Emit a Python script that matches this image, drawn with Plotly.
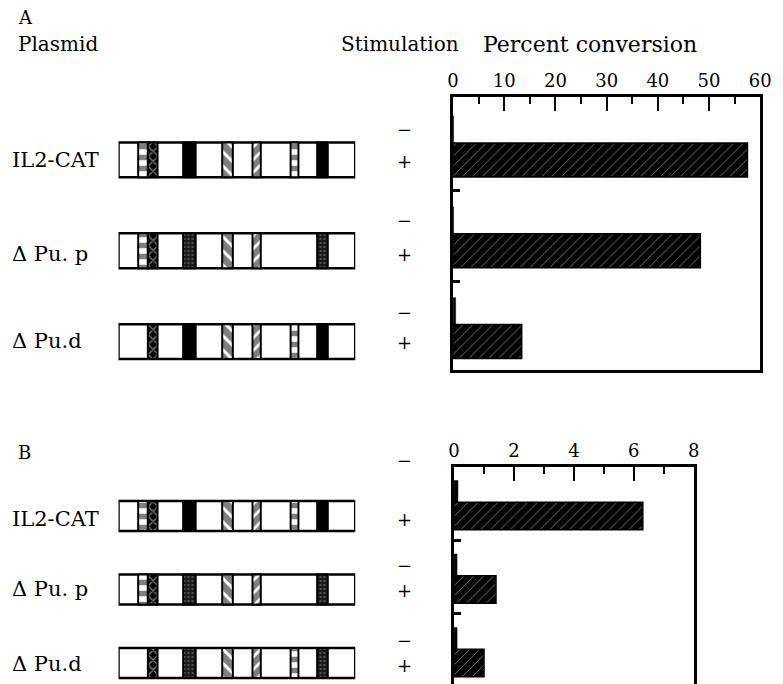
import plotly.graph_objects as go

# ---------------- data ----------------
plasmids = ["IL2-CAT", "\u0394 Pu. p", "\u0394 Pu.d"]
stimulation = ["\u2212", "+"]
a_ticks = [0, 10, 20, 30, 40, 50, 60]
b_ticks = [0, 2, 4, 6, 8]
a_minus = [0.1, 0.1, 0.5]
a_plus = [57.5, 48.3, 13.4]
b_minus = [0.13, 0.1, 0.1]
b_plus = [6.3, 1.4, 1.0]

# plasmid map elements (position along the construct, 0-100)
element_types = ["ladder", "cross", "band", "back", "fwd", "ladder", "band"]
element_start = [8.3, 12.4, 27.3, 43.8, 56.6, 72.7, 83.9]
element_end = [12.4, 16.5, 32.6, 48.3, 60.1, 76.0, 88.4]
a_present = [[1, 1, 1, 1, 1, 1, 1], [1, 1, 1, 1, 1, 0, 1], [0, 1, 1, 1, 1, 1, 1]]
b_present = [[1, 1, 1, 1, 1, 1, 1], [1, 1, 1, 1, 1, 0, 1], [0, 1, 1, 1, 1, 1, 1]]
a_band_style = ["solid", "stipple", "solid"]
b_band_style = ["solid", "stipple", "stipple"]

# ---------------- layout helpers ----------------
W, H = 783, 684
FONT = "DejaVu Serif"


def px(x):
    return x / W


def py(y):
    return 1 - y / H


STYLES = {
    "ladder": dict(color="white", pattern=dict(shape="-", fgcolor="black", bgcolor="white", size=11, solidity=0.5)),
    "cross": dict(color="black", pattern=dict(shape="x", fgcolor="white", bgcolor="black", size=7, solidity=0.35)),
    "back": dict(color="white", pattern=dict(shape="\\", fgcolor="black", bgcolor="white", size=10, solidity=0.7)),
    "fwd": dict(color="white", pattern=dict(shape="/", fgcolor="black", bgcolor="white", size=9, solidity=0.7)),
    "solid": dict(color="black"),
    "stipple": dict(color="#222", pattern=dict(shape=".", fgcolor="#8a8a8a", bgcolor="#161616", size=4, solidity=0.3)),
}

fig = go.Figure()


def add_maps(present, band_style, xa, ya, width):
    rows = [3 * g + 1 for g in range(len(plasmids))]
    # outer box
    fig.add_trace(go.Bar(orientation="h", y=rows, x=[100] * len(rows), base=[0] * len(rows),
                         width=width, marker=dict(color="white", line=dict(color="black", width=2.5)),
                         xaxis=xa, yaxis=ya, hoverinfo="skip", showlegend=False))
    groups = {}
    for g in range(len(plasmids)):
        for i, t in enumerate(element_types):
            if not present[g][i]:
                continue
            style = band_style[g] if t == "band" else t
            groups.setdefault(style, []).append((rows[g], element_start[i], element_end[i]))
    for style, items in groups.items():
        fig.add_trace(go.Bar(orientation="h",
                             y=[it[0] for it in items],
                             base=[it[1] for it in items],
                             x=[it[2] - it[1] for it in items],
                             width=width,
                             marker=dict(line=dict(color="black", width=2), **STYLES[style]),
                             xaxis=xa, yaxis=ya, hoverinfo="skip", showlegend=False))


def add_bars(minus, plus, xa, ya):
    n = len(plasmids)
    fig.add_trace(go.Bar(orientation="h", y=[3 * g for g in range(n)], x=minus, width=0.9,
                         marker=dict(color="black", line=dict(color="black", width=0.5)),
                         xaxis=xa, yaxis=ya, showlegend=False))
    fig.add_trace(go.Bar(orientation="h", y=[3 * g + 1 for g in range(n)], x=plus, width=1.12,
                         marker=dict(color="black", line=dict(color="black", width=1.5),
                                     pattern=dict(shape="/", fgcolor="#e8e8e8", bgcolor="black",
                                                  size=7, solidity=0.14)),
                         xaxis=xa, yaxis=ya, showlegend=False))


add_maps(a_present, a_band_style, "x3", "y", 1.15)
add_maps(b_present, b_band_style, "x4", "y2", 1.22)
add_bars(a_minus, a_plus, "x", "y")
add_bars(b_minus, b_plus, "x2", "y2")

axis_common = dict(showgrid=False, zeroline=False, showline=True, linecolor="black", linewidth=2.5)

fig.update_layout(
    width=W, height=H, margin=dict(l=0, r=0, t=0, b=0),
    paper_bgcolor="white", plot_bgcolor="rgba(0,0,0,0)",
    barmode="overlay", showlegend=False,
    font=dict(family=FONT, color="black", size=18),
    xaxis=dict(domain=[px(457), px(771)], range=[0, 60], side="top", anchor="y", mirror=True,
               tickvals=a_ticks, ticks="inside", ticklen=14, tickwidth=2, tickcolor="black",
               minor=dict(dtick=5, ticks="inside", ticklen=7, tickwidth=2, tickcolor="black", showgrid=False),
               tickfont=dict(size=18, family=FONT), **axis_common),
    yaxis=dict(domain=[py(370), py(97)], range=[7.94, -1.08], anchor="x", mirror=True,
               tickvals=[2, 5], ticks="inside", ticklen=7, tickwidth=3, tickcolor="black",
               showticklabels=False, **axis_common),
    xaxis2=dict(domain=[px(458), px(703)], range=[0, 8], side="top", anchor="y2", mirror=False,
                tickvals=b_ticks, ticks="inside", ticklen=14, tickwidth=2, tickcolor="black",
                minor=dict(dtick=1, ticks="inside", ticklen=7, tickwidth=2, tickcolor="black", showgrid=False),
                tickfont=dict(size=18, family=FONT), **axis_common),
    yaxis2=dict(domain=[0, py(467)], range=[7.86, -1.0], anchor="x2", mirror=True,
                tickvals=[2, 5], ticks="inside", ticklen=7, tickwidth=3, tickcolor="black",
                showticklabels=False, **axis_common),
    xaxis3=dict(domain=[px(115), px(357)], range=[0, 100], anchor="y", visible=False),
    xaxis4=dict(domain=[px(115), px(357)], range=[0, 100], anchor="y2", visible=False),
)

ann = []


def text(t, x, y, size=20, xanchor="left"):
    ann.append(dict(text=t, x=px(x), y=py(y), xref="paper", yref="paper", showarrow=False,
                    xanchor=xanchor, yanchor="middle", borderpad=0,
                    font=dict(family=FONT, size=size, color="black")))


text("A", 11, 18, size=18)
text("B", 11, 453, size=18)
text("Plasmid", 11, 44, size=20)
text("Stimulation", 403, 44, size=20, xanchor="center")
text("Percent conversion", 597, 44, size=22, xanchor="center")

label_y_a = [160, 254, 341]
label_y_b = [519, 589, 664]
for g, name in enumerate(plasmids):
    text(name, 5, label_y_a[g], size=21)
    text(name, 5, label_y_b[g], size=21)

sign_a = [[130, 161], [220, 254], [312, 342]]
sign_b = [[461, 519], [565, 590], [640, 665]]
for g in range(len(plasmids)):
    for k, s in enumerate(stimulation):
        text(s, 407, sign_a[g][k], size=18, xanchor="center")
        text(s, 407, sign_b[g][k], size=18, xanchor="center")

fig.update_layout(annotations=ann)
fig.write_html("out.html", config={"displayModeBar": False},
               post_script="document.body.style.margin='0';")
